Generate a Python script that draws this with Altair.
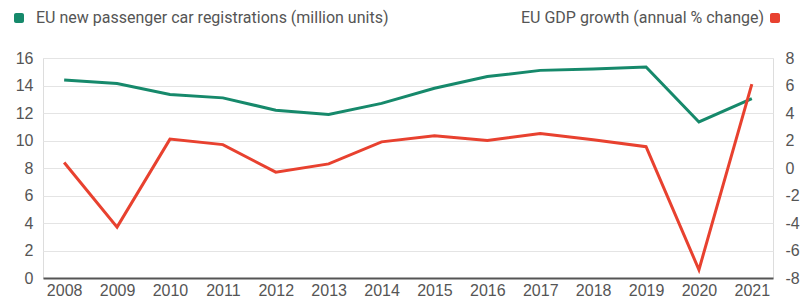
import altair as alt
import pandas as pd

years = [str(y) for y in range(2008, 2022)]
cars = [14.4, 14.15, 13.35, 13.1, 12.2, 11.9, 12.7, 13.8, 14.65, 15.1, 15.2, 15.35, 11.35, 13.05]
gdp = [0.4, -4.3, 2.1, 1.7, -0.3, 0.3, 1.9, 2.35, 2.0, 2.5, 2.05, 1.55, -7.4, 6.1]
left_ticks = list(range(0, 17, 2))
right_ticks = list(range(-8, 9, 2))
cars_label = "EU new passenger car registrations (million units)"
gdp_label = "EU GDP growth (annual % change)"

GREEN = "#16896b"
RED = "#e8412f"
GREY = "#555555"
FONT = "Roboto"
FS = 16

df = pd.DataFrame({"year": years, "cars": cars, "gdp": gdp})

x_enc = alt.X(
    "year:O",
    scale=alt.Scale(type="point", padding=0.4),
    axis=alt.Axis(title=None, labelAngle=0, ticks=False, domainColor=GREY, domainWidth=2,
                  labelFontSize=FS, labelColor=GREY, labelPadding=4, grid=False),
)

base = alt.Chart(df)

green = base.mark_line(color=GREEN, strokeWidth=3).encode(
    x=x_enc,
    y=alt.Y("cars:Q", scale=alt.Scale(domain=[0, 16], nice=False),
            axis=alt.Axis(values=left_ticks, title=None, domain=False, ticks=False,
                          gridColor="#e4e4e4", labelFontSize=FS, labelColor=GREY, labelPadding=10,
                          labelExpr="'' + datum.value")),
)

red = base.mark_line(color=RED, strokeWidth=3).encode(
    x=x_enc,
    y=alt.Y("gdp:Q", scale=alt.Scale(domain=[-8, 8], nice=False),
            axis=alt.Axis(orient="right", values=right_ticks, title=None, domain=False, ticks=False,
                          grid=False, labelFontSize=FS, labelColor=GREY, labelPadding=12,
                          labelExpr="'' + datum.value")),
)

leg_df1 = pd.DataFrame({"t": [cars_label]})
leg_df2 = pd.DataFrame({"t": [gdp_label]})

leg_sq1 = alt.Chart(leg_df1).mark_rect(color=GREEN, cornerRadius=2).encode(
    x=alt.value(-29), x2=alt.value(-19), y=alt.value(-45), y2=alt.value(-35))
leg_tx1 = alt.Chart(leg_df1).mark_text(align="left", baseline="middle", fontSize=FS, font=FONT,
                                        color=GREY).encode(
    x=alt.value(-7), y=alt.value(-40), text="t:N")
leg_sq2 = alt.Chart(leg_df2).mark_rect(color=RED, cornerRadius=2).encode(
    x=alt.value(727), x2=alt.value(737), y=alt.value(-45), y2=alt.value(-35))
leg_tx2 = alt.Chart(leg_df2).mark_text(align="right", baseline="middle", fontSize=FS, font=FONT,
                                        color=GREY).encode(
    x=alt.value(721), y=alt.value(-40), text="t:N")

chart = alt.layer(green, red, leg_sq1, leg_tx1, leg_sq2, leg_tx2).resolve_scale(
    y="independent"
).properties(
    width=730, height=220,
    padding={"left": 6, "top": 2, "right": 0, "bottom": 0},
).configure_view(strokeWidth=0).configure_axis(labelFont=FONT).configure(background="white")

chart.save("out.html", embed_options={"renderer": "svg", "actions": False})
